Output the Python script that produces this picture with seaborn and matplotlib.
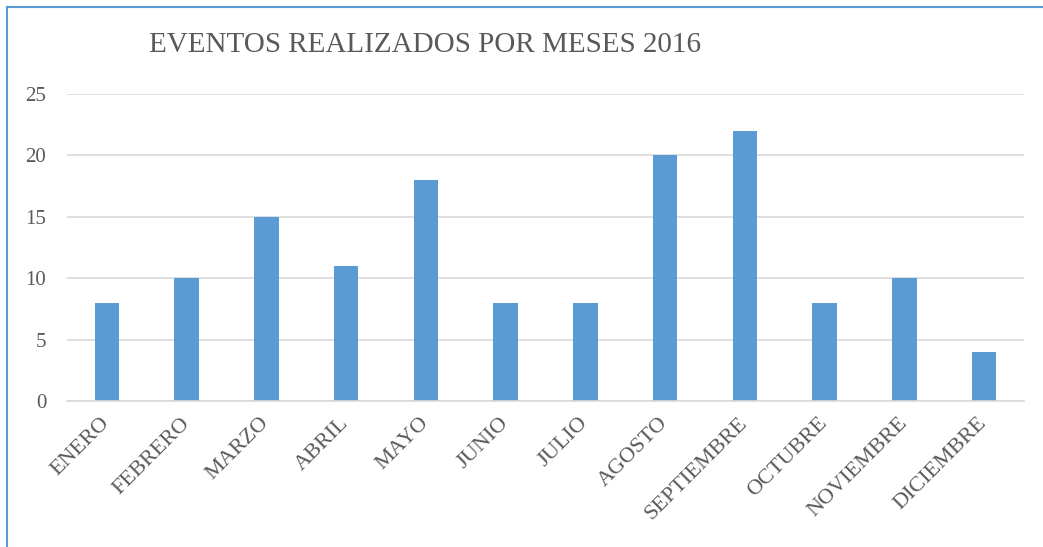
import matplotlib
matplotlib.use("Agg")
import matplotlib.pyplot as plt
import seaborn as sns
from matplotlib.patches import Rectangle

# Chart data
meses = ["ENERO", "FEBRERO", "MARZO", "ABRIL", "MAYO", "JUNIO", "JULIO",
         "AGOSTO", "SEPTIEMBRE", "OCTUBRE", "NOVIEMBRE", "DICIEMBRE"]
eventos = [8, 10, 15, 11, 18, 8, 8, 20, 22, 8, 10, 4]
yticks = [0, 5, 10, 15, 20, 25]
titulo = "EVENTOS REALIZADOS POR MESES 2016"

# Style
sns.set_style("white")
plt.rcParams["font.family"] = ["Liberation Serif", "DejaVu Serif"]
gris_texto = "#595959"
gris_linea = "#D9D9D9"
azul = "#5B9BD5"

W, H = 1043, 547
fig = plt.figure(figsize=(W / 100, H / 100), dpi=100)
ax = fig.add_axes([67 / W, 1 - 401 / H, (1024 - 67) / W, (401 - 94) / H])

sns.barplot(x=meses, y=eventos, color=azul, saturation=1, width=0.31,
            linewidth=0, ax=ax)

ax.set_ylim(0, 25)
ax.set_yticks(yticks)
ax.set_xlim(-0.5, len(meses) - 0.5)
ax.yaxis.grid(True, color=gris_linea, linewidth=1.2)
ax.set_axisbelow(True)
for side in ["top", "right", "left"]:
    ax.spines[side].set_visible(False)
ax.spines["bottom"].set_color(gris_linea)
ax.spines["bottom"].set_linewidth(1.2)
ax.tick_params(axis="y", length=0, colors=gris_texto, labelsize=15, pad=15)
ax.tick_params(axis="x", length=0, colors=gris_texto, labelsize=16, pad=14)
plt.setp(ax.get_xticklabels(), rotation=45, ha="right", va="center",
         rotation_mode="anchor")
ax.set_xlabel("")
ax.set_ylabel("")

# Title
fig.text(425 / W, 1 - 45 / H, titulo, ha="center", va="center",
         fontsize=21, color=gris_texto)

# Chart frame (cropped at right and bottom)
fig.patches.append(Rectangle((7 / W, -0.1), 1.2, 1 - 7 / H + 0.1,
                             transform=fig.transFigure, fill=False,
                             edgecolor=azul, linewidth=1.5))

fig.savefig("out.png", dpi=100)
